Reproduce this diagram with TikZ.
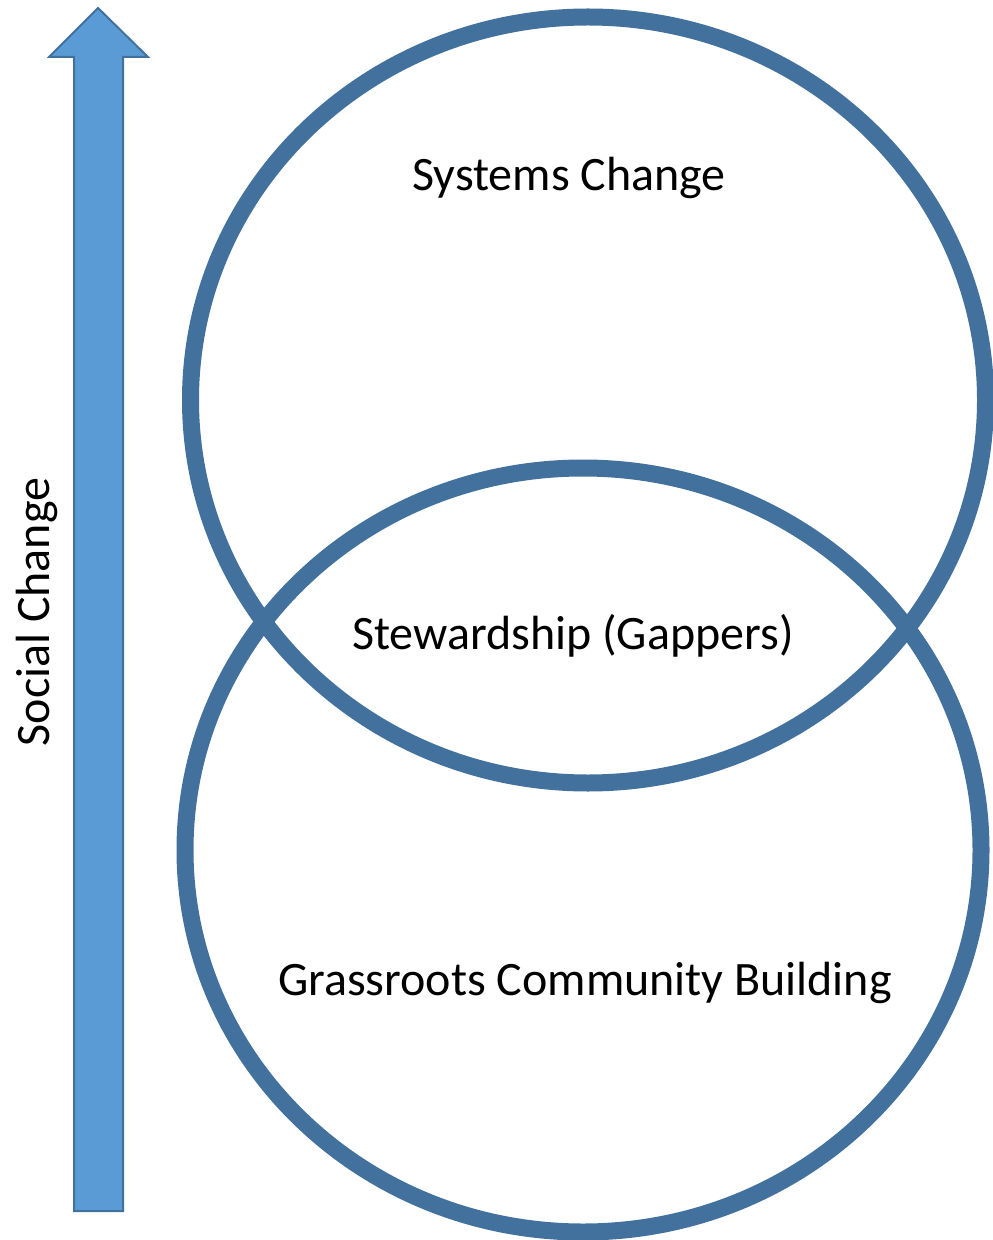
\documentclass[tikz,border=0pt]{standalone}
\usepackage{fontspec}
\setmainfont{Carlito}
\definecolor{ringblue}{HTML}{41719C}
\definecolor{arrowfill}{HTML}{5B9BD5}
\tikzset{
  ring/.style={draw=ringblue, line width=8.5pt},
  label/.style={font=\fontsize{24}{28}\selectfont, text=black, inner sep=0pt},
  bigarrow/.style={draw=ringblue, fill=arrowfill, line width=1pt, line join=miter}
}
\begin{document}
\begin{tikzpicture}[x=0.5pt, y=-0.5pt]
\useasboundingbox (0,0) rectangle (992,1240);
% arrow
\draw[bigarrow] (74,1211) -- (74,57) -- (49,57) -- (98,8) -- (148,57) -- (123,57) -- (123,1211) -- cycle;
% ellipses
\draw[ring] (588,400) ellipse [x radius=397.5, y radius=383];
\draw[ring] (583,850) ellipse [x radius=398, y radius=382];
% labels
\node[label] (sys) at (569,178) {Systems Change};
\node[label] (stew) at (573,636) {Stewardship (Gappers)};
\node[label] (grass) at (585,983) {Grassroots Community Building};
\node[label, rotate=90] (soc) at (37,612) {Social Change};
\end{tikzpicture}
\end{document}
